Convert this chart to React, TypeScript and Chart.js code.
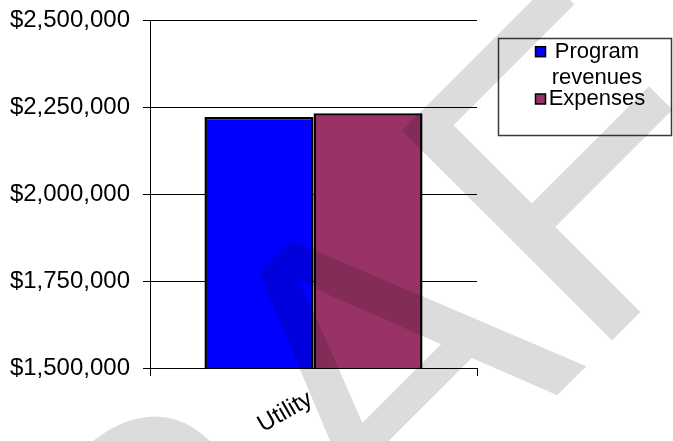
import { useEffect, useRef } from 'react';
import { Chart, registerables } from 'chart.js';

Chart.register(...registerables);

// Chart data
const categories = ['Utility'];
const seriesLabels = ['Program revenues', 'Expenses'];
const programRevenues = [2221000];
const expenses = [2232000];
const seriesColors = ['#0000ff', '#993366'];

// Value axis range
const yMin = 1500000;
const yMax = 2500000;
const yStep = 250000;

const watermarkText = 'DRAFT';

const FONT = '"Liberation Sans", Arial, sans-serif';

const formatDollars = (v: number) => '$' + Math.round(v).toLocaleString('en-US');

// Boxed legend at the right of the plot, with word-wrapped labels
const boxLegend = {
  id: 'boxLegend',
  afterDraw(chart: any) {
    const { ctx, chartArea } = chart;
    const left = chartArea.right + 21.5;
    const top = 38.5;
    const w = 173;
    const h = 97;
    ctx.save();
    ctx.strokeStyle = '#3a3a3a';
    ctx.lineWidth = 1.5;
    ctx.strokeRect(left, top, w, h);

    ctx.font = `22px ${FONT}`;
    ctx.fillStyle = '#000';
    ctx.textBaseline = 'alphabetic';
    ctx.textAlign = 'center';
    const maxTextWidth = 100;
    const cx = left + 98.5;
    const swatchX = left + 37;
    let baseline = top + 19.2;
    chart.data.datasets.forEach((ds: any) => {
      // wrap words
      const words = String(ds.label).split(' ');
      const lines: string[] = [];
      let cur = '';
      words.forEach((word) => {
        const trial = cur ? cur + ' ' + word : word;
        if (cur && ctx.measureText(trial).width > maxTextWidth) {
          lines.push(cur);
          cur = word;
        } else {
          cur = trial;
        }
      });
      if (cur) lines.push(cur);

      // swatch
      ctx.fillStyle = ds.backgroundColor;
      ctx.fillRect(swatchX, baseline - 11, 10, 10);
      ctx.strokeStyle = '#000';
      ctx.lineWidth = 1.5;
      ctx.strokeRect(swatchX, baseline - 11, 10, 10);

      ctx.fillStyle = '#000';
      lines.forEach((line, li) => {
        ctx.fillText(line, cx, baseline);
        if (li < lines.length - 1) baseline += 26.6;
      });
      baseline += 20.7;
    });
    ctx.restore();
  },
};

// Large translucent diagonal stamp over the whole drawing
const stamp = {
  id: 'stamp',
  afterDraw(chart: any) {
    const { ctx } = chart;
    ctx.save();
    ctx.fillStyle = 'rgba(0,0,0,0.137)';
    ctx.font = `432px ${FONT}`;
    ctx.textAlign = 'left';
    ctx.textBaseline = 'alphabetic';
    ctx.translate(-58, 1010.6);
    ctx.rotate(-Math.PI / 4);
    ctx.fillText(watermarkText, 0, 0);
    ctx.restore();
  },
};

export default function App() {
  const canvasRef = useRef<HTMLCanvasElement | null>(null);

  useEffect(() => {
    if (!canvasRef.current) return;
    const barStyle = {
      borderColor: '#000',
      borderWidth: 2.5,
      borderSkipped: false,
      categoryPercentage: 0.667,
      barPercentage: 1,
    };
    const chart = new Chart(canvasRef.current, {
      type: 'bar',
      data: {
        labels: categories,
        datasets: [
          { label: seriesLabels[0], data: programRevenues, backgroundColor: seriesColors[0], ...barStyle },
          { label: seriesLabels[1], data: expenses, backgroundColor: seriesColors[1], ...barStyle },
        ],
      },
      options: {
        responsive: false,
        animation: false,
        devicePixelRatio: 1,
        layout: { padding: { left: 0, top: 20, right: 196, bottom: 0 } },
        plugins: {
          legend: { display: false },
          tooltip: { enabled: false },
        },
        scales: {
          x: {
            grid: {
              drawOnChartArea: false,
              drawTicks: true,
              tickLength: 8,
              color: '#000',
              offset: true,
            },
            border: { display: true, color: '#000', width: 1 },
            ticks: {
              color: '#000',
              font: { family: FONT, size: 24 },
              minRotation: 30,
              maxRotation: 30,
              padding: 9,
              labelOffset: -3,
              autoSkip: false,
            },
            afterFit: (scale: any) => {
              scale.height = 73;
              scale.paddingLeft = 0;
              scale.paddingRight = 0;
            },
          },
          y: {
            min: yMin,
            max: yMax,
            grid: { color: '#000', tickLength: 7, drawTicks: true },
            border: { display: true, color: '#000', width: 1 },
            ticks: {
              stepSize: yStep,
              color: '#000',
              font: { family: FONT, size: 24 },
              padding: 13,
              callback: (v: any) => formatDollars(Number(v)),
            },
            afterFit: (scale: any) => {
              scale.width = 150;
              scale.paddingTop = 0;
              scale.paddingBottom = 0;
            },
          },
        },
      },
      plugins: [boxLegend, stamp],
    });
    return () => chart.destroy();
  }, []);

  return (
    <div style={{ position: 'absolute', left: 0, top: 0, width: 673, height: 441, background: '#fff' }}>
      <canvas ref={canvasRef} width={673} height={441} style={{ width: 673, height: 441, display: 'block' }} />
    </div>
  );
}
